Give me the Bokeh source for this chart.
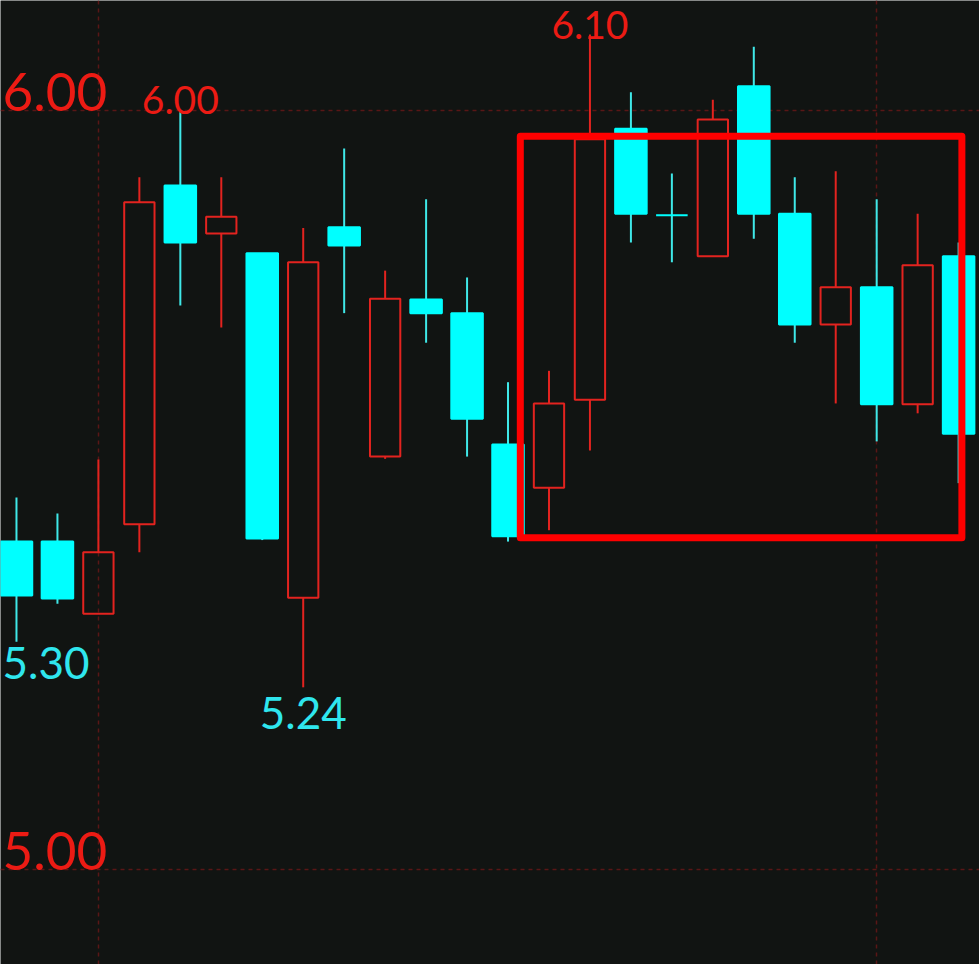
from bokeh.plotting import figure
from bokeh.models import ColumnDataSource, Range1d, FixedTicker
from bokeh.core.properties import value
from bokeh.embed import file_html
from bokeh.resources import INLINE

# Daily OHLC prices
opens  = [5.432, 5.432, 5.337, 5.455, 5.901, 5.838, 5.812, 5.358, 5.846, 5.544, 5.751, 5.733,
          5.560, 5.503, 5.619, 5.976, 5.862, 5.808, 6.032, 5.864, 5.718, 5.767, 5.613, 5.808]
highs  = [5.490, 5.469, 5.540, 5.912, 6.000, 5.912, 5.812, 5.845, 5.950, 5.789, 5.883, 5.780,
          5.642, 5.657, 6.100, 6.024, 5.917, 6.014, 6.084, 5.912, 5.920, 5.883, 5.864, 5.826]
lows   = [5.300, 5.350, 5.337, 5.418, 5.743, 5.714, 5.434, 5.240, 5.733, 5.541, 5.694, 5.544,
          5.432, 5.447, 5.552, 5.826, 5.800, 5.808, 5.831, 5.694, 5.614, 5.564, 5.601, 5.509]
closes = [5.361, 5.357, 5.418, 5.879, 5.826, 5.860, 5.436, 5.800, 5.822, 5.752, 5.733, 5.594,
          5.439, 5.614, 5.962, 5.864, 5.862, 5.988, 5.864, 5.718, 5.767, 5.613, 5.796, 5.574]

# Price axis ticks and their labels
y_ticks = [5.0, 6.0]
y_tick_labels = ["5.00", "6.00"]
x_grid_ticks = [2, 21]

# Marked extremes: (bar index, price)
high_marks = [(4, 6.00), (14, 6.10)]
low_marks = [(0, 5.30), (7, 5.24)]

# Highlighted range of bars and prices
box_left, box_right = 12.30, 23.08
box_bottom, box_top = 5.437, 5.966

BG = "#111412"
UP = "#e3231f"
DOWN = "#00ffff"
WICK_DOWN = "#3fe8e8"
GRID = "#5a1616"
LABEL_RED = "#ec1b14"
LABEL_CYAN = "#2fe6ee"
FONT = "Lato"

n = len(opens)
idx = list(range(n))
body_top = [max(o, c) for o, c in zip(opens, closes)]
body_bot = [min(o, c) for o, c in zip(opens, closes)]
is_up = [c > o for o, c in zip(opens, closes)]


def subset(flag):
    keep = [i for i in idx if is_up[i] == flag]
    return ColumnDataSource(dict(
        x=[idx[i] for i in keep],
        high=[highs[i] for i in keep],
        low=[lows[i] for i in keep],
        top=[body_top[i] for i in keep],
        bottom=[body_bot[i] for i in keep],
    ))


up_src = subset(True)
down_src = subset(False)

p = figure(width=979, height=964, output_backend="svg", toolbar_location=None,
           x_range=Range1d(-0.39, 23.51), y_range=Range1d(4.8748, 6.1449),
           background_fill_color=BG, border_fill_color=BG, min_border=0)
p.outline_line_color = None
p.xaxis.visible = False
p.yaxis.visible = False

p.ygrid.ticker = FixedTicker(ticks=y_ticks)
p.xgrid.ticker = FixedTicker(ticks=x_grid_ticks)
for g in (p.xgrid, p.ygrid):
    g.grid_line_color = GRID
    g.grid_line_width = 1.5
    g.grid_line_dash = "4 4"

# wicks (split so the hollow up bodies stay empty)
p.segment(x0="x", y0="top", x1="x", y1="high", source=up_src, line_color=UP, line_width=2)
p.segment(x0="x", y0="low", x1="x", y1="bottom", source=up_src, line_color=UP, line_width=2)
p.segment(x0="x", y0="top", x1="x", y1="high", source=down_src, line_color=WICK_DOWN, line_width=2)
p.segment(x0="x", y0="low", x1="x", y1="bottom", source=down_src, line_color=WICK_DOWN, line_width=2)

# bodies
p.vbar(x="x", top="top", bottom="bottom", width=0.74, source=up_src,
       fill_alpha=0, line_color=UP, line_width=2)
p.vbar(x="x", top="top", bottom="bottom", width=0.77, source=down_src,
       fill_color=DOWN, line_color=DOWN, line_width=2)

# price labels sitting on the grid lines
p.text(x=[p.x_range.start] * len(y_ticks), y=y_ticks, text=y_tick_labels,
       x_offset=2, y_offset=-18, text_align="left", text_baseline="alphabetic",
       text_color=LABEL_RED, text_font=value(FONT), text_font_size="53px")

# extreme markers
p.text(x=[m[0] for m in high_marks], y=[m[1] for m in high_marks],
       text=[f"{m[1]:.2f}" for m in high_marks], text_align="center", y_offset=-10,
       text_baseline="alphabetic", text_color=LABEL_RED,
       text_font=value(FONT), text_font_size="39px")
first = [m for m in low_marks if m[0] == 0]
rest = [m for m in low_marks if m[0] != 0]
p.text(x=[m[0] for m in rest], y=[m[1] for m in rest],
       text=[f"{m[1]:.2f}" for m in rest], text_align="center", y_offset=26,
       text_baseline="alphabetic", text_color=LABEL_CYAN,
       text_font=value(FONT), text_font_size="44px")
p.text(x=[m[0] for m in first], y=[m[1] for m in first],
       text=[f"{m[1]:.2f}" for m in first], text_align="left", x_offset=-14, y_offset=21,
       text_baseline="alphabetic", text_color=LABEL_CYAN,
       text_font=value(FONT), text_font_size="44px")

# highlight box
p.quad(left=[box_left], right=[box_right], top=[box_top], bottom=[box_bottom],
       fill_alpha=0, line_color="#ff0000", line_width=7, line_join="round")

open("out.html", "w").write(file_html(p, INLINE))
